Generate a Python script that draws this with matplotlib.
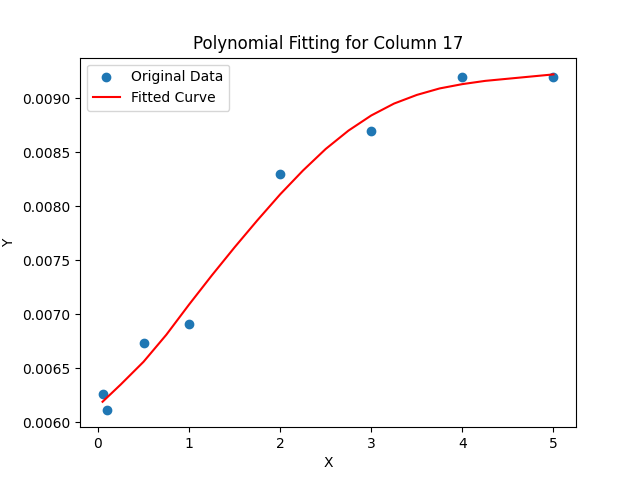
import matplotlib
matplotlib.use("Agg")
import matplotlib.pyplot as plt

# measured data (column 17)
x_data = [0.05, 0.1, 0.5, 1, 2, 3, 4, 5]
y_data = [0.00626, 0.00611, 0.00673, 0.00691, 0.00830, 0.00870, 0.00920, 0.00920]

# fitted curve
x_fit = [0.05, 0.25, 0.5, 0.75, 1.0, 1.25, 1.5, 1.75, 2.0, 2.25, 2.5,
         2.75, 3.0, 3.25, 3.5, 3.75, 4.0, 4.25, 4.5, 4.75, 5.0]
y_fit = [0.00619, 0.00635, 0.00656, 0.00681, 0.00709, 0.00736, 0.00762,
         0.00787, 0.00811, 0.00833, 0.00853, 0.00870, 0.00884, 0.00895,
         0.00903, 0.00909, 0.00913, 0.00916, 0.00918, 0.00920, 0.00922]

fig, ax = plt.subplots(figsize=(6.4, 4.8), dpi=100)
ax.scatter(x_data, y_data, label="Original Data")
ax.plot(x_fit, y_fit, color="red", label="Fitted Curve")
ax.set_xlabel("X")
ax.set_ylabel("Y")
ax.set_title("Polynomial Fitting for Column 17")
ax.legend()

plt.savefig("out.png", dpi=100)
